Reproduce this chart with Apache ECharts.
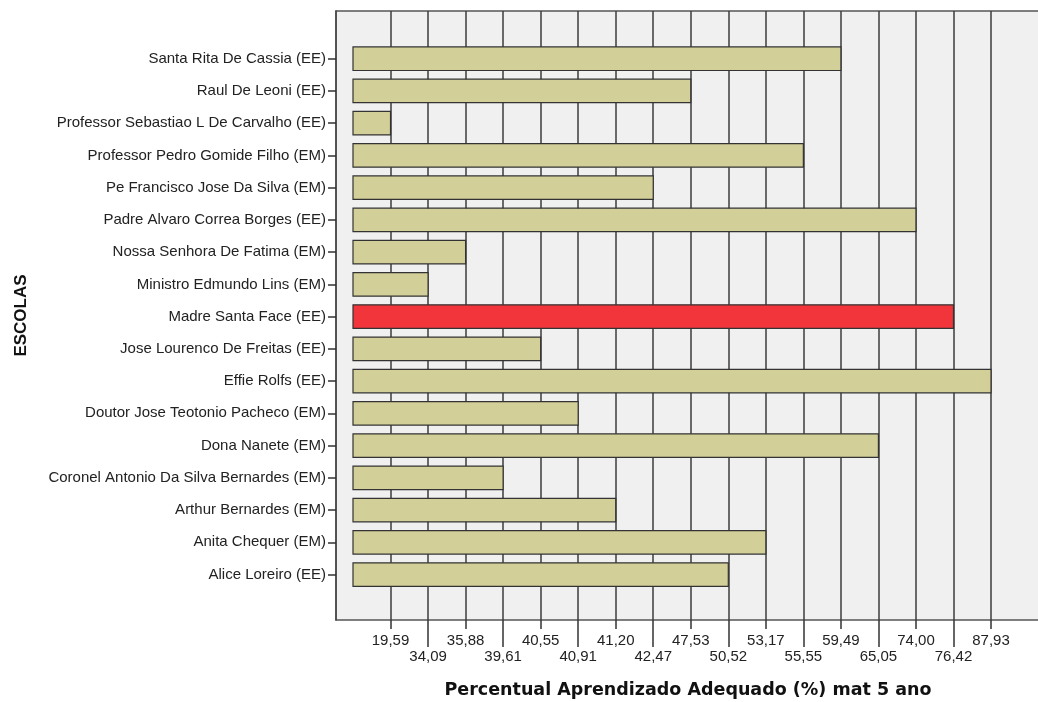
<!DOCTYPE html>
<html>
<head>
<meta charset="utf-8">
<script src="https://cdn.jsdelivr.net/npm/echarts@6/dist/echarts.min.js"></script>
<style>
html,body{margin:0;padding:0;background:#fff;}
#chart{width:1038px;height:702px;}
</style>
</head>
<body>
<div id="chart"></div>
<script>
// ---- data ----
const schools = [
  'Santa Rita De Cassia (EE)',
  'Raul De Leoni (EE)',
  'Professor Sebastiao L De Carvalho (EE)',
  'Professor Pedro Gomide Filho (EM)',
  'Pe Francisco Jose Da Silva (EM)',
  'Padre Alvaro Correa Borges (EE)',
  'Nossa Senhora De Fatima (EM)',
  'Ministro Edmundo Lins (EM)',
  'Madre Santa Face (EE)',
  'Jose Lourenco De Freitas (EE)',
  'Effie Rolfs (EE)',
  'Doutor Jose Teotonio Pacheco (EM)',
  'Dona Nanete (EM)',
  'Coronel Antonio Da Silva Bernardes (EM)',
  'Arthur Bernardes (EM)',
  'Anita Chequer (EM)',
  'Alice Loreiro (EE)'
];
const values = [59.49, 47.53, 19.59, 55.55, 42.47, 74.00, 35.88, 34.09, 76.42, 40.55, 87.93, 40.91, 65.05, 39.61, 41.20, 53.17, 50.52];
// x-axis categories (ordinal scale of observed values)
const tickValues = [19.59, 34.09, 35.88, 39.61, 40.55, 40.91, 41.20, 42.47, 47.53, 50.52, 53.17, 55.55, 59.49, 65.05, 74.00, 76.42, 87.93];
const highlightSchool = 'Madre Santa Face (EE)';
const xTitle = 'Percentual Aprendizado Adequado (%) mat 5 ano';
const yTitle = 'ESCOLAS';

// ---- build ----
const fmt = v => v.toFixed(2).replace('.', ',');
const rankOf = v => tickValues.indexOf(v) + 1;
const barData = values.map((v, i) => [rankOf(v), i]);
const oddPos = tickValues.map((v, i) => i + 1).filter(p => p % 2 === 1);
const evenPos = tickValues.map((v, i) => i + 1).filter(p => p % 2 === 0);
const tickLabel = p => { const v = tickValues[Math.round(p) - 1]; return v === undefined ? '' : fmt(v); };

const FONT = "'Liberation Sans', Arial, sans-serif";
const X_MIN = -0.453, X_MAX = 18.305;

function xAxisDef(pos, tickLen, margin, withName) {
  return {
    type: 'value', position: 'bottom', min: X_MIN, max: X_MAX,
    axisLine: { show: false, onZero: false },
    axisTick: { show: true, length: tickLen, customValues: pos, lineStyle: { color: '#333', width: 1.5 } },
    axisLabel: { show: true, customValues: pos, margin: margin, formatter: tickLabel,
      fontFamily: FONT, fontSize: 15, color: '#222' },
    splitLine: { show: true, lineStyle: { color: '#3c3c3c', width: 1.5 } },
    name: withName ? xTitle : '',
    nameLocation: 'middle', nameGap: 61,
    nameTextStyle: { fontFamily: "'DejaVu Sans', sans-serif", fontSize: 17.5, fontWeight: 'bold', color: '#111' }
  };
}

const chart = echarts.init(document.getElementById('chart'), null, { renderer: 'canvas' });
chart.setOption({
  animation: false,
  backgroundColor: '#ffffff',
  grid: {
    left: 336, right: -2, top: 11, bottom: 82,
    outerBoundsMode: 'none', containLabel: false,
    show: true, backgroundColor: '#f0f0f0', borderColor: '#555', borderWidth: 1.5
  },
  xAxis: [
    xAxisDef(oddPos, 9, 13, true),
    xAxisDef(evenPos, 27, 29, false)
  ],
  yAxis: {
    type: 'value', inverse: true, min: -1.48, max: 17.41,
    axisLine: { show: true, onZero: false, lineStyle: { color: '#444', width: 1.5 } },
    axisTick: { show: true, length: 8, customValues: schools.map((s, i) => i), lineStyle: { color: '#333', width: 1.5 } },
    axisLabel: { show: true, customValues: schools.map((s, i) => i), margin: 10,
      formatter: v => schools[Math.round(v)] || '',
      fontFamily: FONT, fontSize: 15, color: '#222' },
    splitLine: { show: false },
    name: yTitle, nameLocation: 'middle', nameGap: 306, nameRotate: 90,
    nameTextStyle: { fontFamily: FONT, fontSize: 17, fontWeight: 'bold', color: '#111' }
  },
  series: [{
    type: 'custom',
    xAxisIndex: 0, yAxisIndex: 0,
    encode: { x: 0, y: 1 },
    data: barData,
    renderItem: function (params, api) {
      const r = api.value(0), row = api.value(1);
      const a = api.coord([0, row]);
      const b = api.coord([r, row]);
      const h = api.size([0, 1])[1] * 0.73;
      const isHi = schools[row] === highlightSchool;
      return {
        type: 'rect',
        shape: { x: a[0], y: a[1] - h / 2, width: b[0] - a[0], height: h },
        style: { fill: isHi ? '#f2353b' : '#d3cf98', stroke: '#333', lineWidth: 1.2 }
      };
    },
    z: 3
  }]
});
</script>
</body>
</html>
